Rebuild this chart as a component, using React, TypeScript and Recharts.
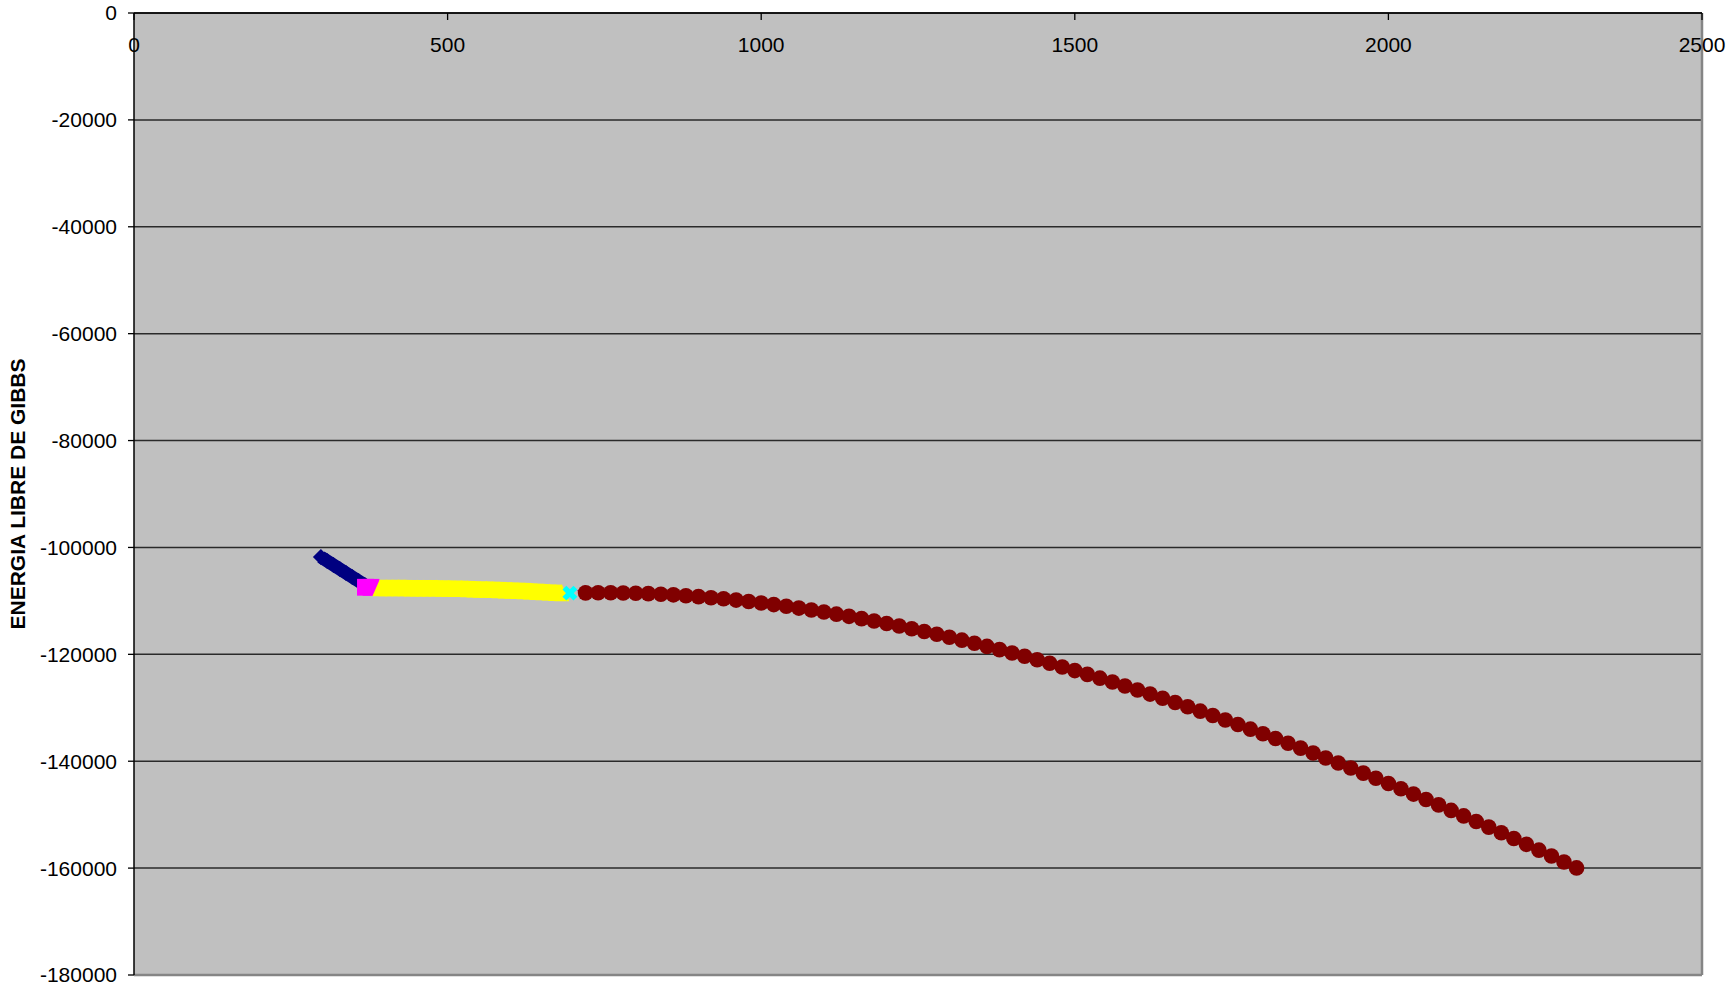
import React from 'react';
import { ComposedChart, Scatter, XAxis, YAxis, CartesianGrid, ReferenceLine } from 'recharts';

// axis ticks
const xTicks = [0, 500, 1000, 1500, 2000, 2500];
const yTicks = [0, -20000, -40000, -60000, -80000, -100000, -120000, -140000, -160000, -180000];

// serie 1 (azul)
const rhombicT = [298, 308, 318, 328, 338, 348, 358, 368];
const rhombicG = [-101800, -102550, -103300, -104050, -104800, -105540, -106290, -107040];

// serie 2 (magenta)
const monoclinicT = [369, 378];
const monoclinicG = [-107450, -107460];

// serie 3 (amarillo)
const liquidT = [392, 402, 412, 422, 432, 442, 452, 462, 472, 482, 492, 502, 512, 522, 532, 542, 552, 562, 572, 582, 592, 602, 612, 622, 632, 642, 652, 662, 672, 682];
const liquidG = [-107550, -107555, -107560, -107560, -107560, -107570, -107570, -107580, -107600, -107610, -107630, -107650, -107680, -107700, -107730, -107760, -107800, -107830, -107870, -107920, -107960, -108010, -108060, -108110, -108170, -108230, -108290, -108360, -108420, -108490];

// serie 4 (cyan) y serie 5 (morado)
const cyanT = [695];
const cyanG = [-108540];
const purpleT = [718];
const purpleG = [-108500];

// serie 6 (granate)
const gasT = [720, 740, 760, 780, 800, 820, 840, 860, 880, 900, 920, 940, 960, 980, 1000, 1020, 1040, 1060, 1080, 1100, 1120, 1140, 1160, 1180, 1200, 1220, 1240, 1260, 1280, 1300, 1320, 1340, 1360, 1380, 1400, 1420, 1440, 1460, 1480, 1500, 1520, 1540, 1560, 1580, 1600, 1620, 1640, 1660, 1680, 1700, 1720, 1740, 1760, 1780, 1800, 1820, 1840, 1860, 1880, 1900, 1920, 1940, 1960, 1980, 2000, 2020, 2040, 2060, 2080, 2100, 2120, 2140, 2160, 2180, 2200, 2220, 2240, 2260, 2280, 2300];
const gasG = [-108500, -108480, -108480, -108510, -108560, -108640, -108750, -108870, -109030, -109200, -109400, -109610, -109850, -110110, -110390, -110690, -111010, -111350, -111710, -112090, -112480, -112890, -113320, -113770, -114230, -114710, -115210, -115720, -116250, -116790, -117350, -117930, -118520, -119120, -119740, -120370, -121020, -121680, -122360, -123040, -123750, -124460, -125190, -125930, -126680, -127440, -128220, -129010, -129810, -130630, -131450, -132290, -133140, -134000, -134870, -135750, -136640, -137550, -138460, -139390, -140320, -141270, -142230, -143190, -144170, -145150, -146150, -147160, -148170, -149200, -150230, -151280, -152330, -153390, -154470, -155550, -156640, -157740, -158850, -159960];

const toPoints = (t: number[], g: number[]) => t.map((v, i) => ({ t: v, g: g[i] }));

const FONT = '"Liberation Sans", Arial, sans-serif';
const PLOT_TOP = 14;

const Diamond = (p: any) => {
  const r = 8;
  return <polygon points={`${p.cx},${p.cy - r} ${p.cx + r},${p.cy} ${p.cx},${p.cy + r} ${p.cx - r},${p.cy}`} fill="#000080" />;
};
const Square = (p: any) => <rect x={p.cx - 8.4} y={p.cy - 8.4} width={16.8} height={16.8} fill="#FF00FF" />;
const Triangle = (p: any) => (
  <polygon points={`${p.cx},${p.cy - 8.5} ${p.cx + 7.5},${p.cy + 8.5} ${p.cx - 7.5},${p.cy + 8.5}`} fill="#FFFF00" />
);
const Cross = (p: any) => (
  <g stroke="#00FFFF" strokeWidth={5.5}>
    <line x1={p.cx - 5.5} y1={p.cy - 5.5} x2={p.cx + 5.5} y2={p.cy + 5.5} />
    <line x1={p.cx - 5.5} y1={p.cy + 5.5} x2={p.cx + 5.5} y2={p.cy - 5.5} />
  </g>
);
const Star = (p: any) => {
  const pts: string[] = [];
  for (let i = 0; i < 10; i++) {
    const r = i % 2 === 0 ? 8 : 3.5;
    const a = -Math.PI / 2 + (i * Math.PI) / 5;
    pts.push(`${p.cx + r * Math.cos(a)},${p.cy + r * Math.sin(a)}`);
  }
  return <polygon points={pts.join(' ')} fill="#800080" />;
};
const Dot = (p: any) => <circle cx={p.cx} cy={p.cy} r={7.8} fill="#800000" />;

// x labels sit inside the plot, under the top axis line
const XTick = (p: any) => (
  <text x={p.x} y={PLOT_TOP + 38} textAnchor="middle" fontFamily={FONT} fontSize={21} fill="#000">
    {p.payload.value}
  </text>
);

const YLabel = (props: any) => {
  const vb = props.viewBox || {};
  const x = 24.5;
  const y = vb.height ? vb.y + vb.height / 2 : 494;
  return (
    <text x={x} y={y} transform={`rotate(-90 ${x} ${y})`} textAnchor="middle" fontFamily={FONT} fontSize={21} fontWeight="bold" fill="#000">
      ENERGIA LIBRE DE GIBBS
    </text>
  );
};

export default function App() {
  return (
    <div style={{ position: 'absolute', left: 0, top: 0, width: 1730, height: 985, background: '#fff' }}>
      <ComposedChart width={1730} height={985} margin={{ top: PLOT_TOP - 1, right: 28, bottom: 10, left: 0 }}>
        <CartesianGrid vertical={false} fill="#C0C0C0" fillOpacity={1} stroke="#2a2a2a" strokeWidth={1.5} />
        <XAxis
          type="number"
          dataKey="t"
          domain={[0, 2500]}
          ticks={xTicks}
          interval={0}
          orientation="top"
          mirror
          height={1}
          tickSize={7}
          tickMargin={17}
          allowDataOverflow
          axisLine={{ stroke: '#000', strokeWidth: 1.3 }}
          tickLine={{ stroke: '#000', strokeWidth: 1.3 }}
          tick={XTick}
        />
        <YAxis
          type="number"
          dataKey="g"
          domain={[-180000, 0]}
          ticks={yTicks}
          interval={0}
          width={134}
          tickSize={6}
          tickMargin={11}
          allowDataOverflow
          axisLine={{ stroke: '#000', strokeWidth: 1.5 }}
          tickLine={{ stroke: '#000', strokeWidth: 1.3 }}
          tick={{ fill: '#000', fontSize: 21, fontFamily: FONT }}
          label={{ content: YLabel }}
        />
        <ReferenceLine x={2500} stroke="#858585" strokeWidth={2.5} />
        <ReferenceLine y={-180000} stroke="#858585" strokeWidth={2.5} />
        <Scatter data={toPoints(rhombicT, rhombicG)} fill="#000080" line={{ stroke: '#000080', strokeWidth: 13 }} shape={Diamond} isAnimationActive={false} />
        <Scatter data={toPoints(monoclinicT, monoclinicG)} fill="#FF00FF" line={{ stroke: '#FF00FF', strokeWidth: 14 }} shape={Square} isAnimationActive={false} />
        <Scatter data={toPoints(liquidT, liquidG)} fill="#FFFF00" line={{ stroke: '#FFFF00', strokeWidth: 16 }} shape={Triangle} isAnimationActive={false} />
        <Scatter data={toPoints(cyanT, cyanG)} fill="#00FFFF" shape={Cross} isAnimationActive={false} />
        <Scatter data={toPoints(purpleT, purpleG)} fill="#800080" shape={Star} isAnimationActive={false} />
        <Scatter data={toPoints(gasT, gasG)} fill="#800000" shape={Dot} isAnimationActive={false} />
      </ComposedChart>
    </div>
  );
}
